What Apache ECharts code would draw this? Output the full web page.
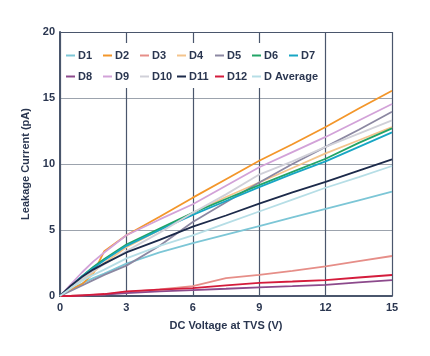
<!DOCTYPE html>
<html><head><meta charset="utf-8">
<script src="https://cdn.jsdelivr.net/npm/echarts@6/dist/echarts.min.js"></script>
<style>html,body{margin:0;padding:0;background:#fff}#c{width:430px;height:356px}</style>
</head><body><div id="c"></div>
<script>
const voltages = [0, 0.5, 1, 1.5, 2, 3, 4.5, 6, 7.5, 9, 10.5, 12, 13.5, 15];
const seriesNames = ['D1','D2','D3','D4','D5','D6','D7','D8','D9','D10','D11','D12','D Average'];
const D1  = [0, 0.5, 0.95, 1.35, 1.7, 2.45, 3.3, 4.0, 4.65, 5.3, 5.95, 6.6, 7.25, 7.9];
const D2  = [0, 0.5, 0.9, 1.7, 3.4, 4.6, 6.0, 7.45, 8.85, 10.25, 11.5, 12.8, 14.2, 15.55];
const D3  = [0, 0.02, 0.05, 0.08, 0.12, 0.3, 0.5, 0.75, 1.35, 1.6, 1.9, 2.25, 2.65, 3.03];
const D4  = [0, 0.6, 1.2, 1.8, 2.5, 3.7, 5.0, 6.3, 7.5, 8.6, 9.7, 10.8, 11.8, 12.8];
const D5  = [0, 0.4, 0.8, 1.2, 1.6, 2.3, 3.8, 5.6, 7.1, 8.6, 10.0, 11.3, 12.6, 13.96];
const D6  = [0, 0.8, 1.5, 2.2, 2.8, 3.9, 5.1, 6.3, 7.35, 8.4, 9.4, 10.4, 11.6, 12.7];
const D7  = [0, 0.8, 1.5, 2.1, 2.7, 3.8, 5.0, 6.15, 7.2, 8.25, 9.25, 10.2, 11.3, 12.4];
const D8  = [0, 0, 0.03, 0.06, 0.1, 0.22, 0.35, 0.45, 0.55, 0.66, 0.75, 0.85, 1.03, 1.21];
const D9  = [0, 0.9, 1.8, 2.6, 3.3, 4.6, 5.8, 6.95, 8.35, 9.75, 10.9, 12.05, 13.3, 14.55];
const D10 = [0, 0.7, 1.3, 1.9, 2.4, 3.4, 4.8, 6.3, 7.7, 9.2, 10.2, 11.3, 12.3, 13.3];
const D11 = [0, 0.8, 1.45, 2.0, 2.45, 3.3, 4.25, 5.25, 6.1, 7.0, 7.85, 8.65, 9.5, 10.35];
const D12 = [0, 0, 0.05, 0.1, 0.15, 0.35, 0.48, 0.6, 0.8, 1.0, 1.1, 1.21, 1.4, 1.59];
const DAvg = [0, 0.6, 1.15, 1.6, 2.0, 2.85, 3.8, 4.6, 5.5, 6.4, 7.3, 8.2, 9.0, 9.85];
const xTicks = [0, 3, 6, 9, 12, 15];
const yTicks = [0, 5, 10, 15, 20];

const values = [D1, D2, D3, D4, D5, D6, D7, D8, D9, D10, D11, D12, DAvg];
const colors = ['#7cc6d6','#f3962a','#e68e88','#f4c48c','#8c88a2','#22a466','#17a6c4',
                '#8c4a8c','#d2a2d8','#d0d0d8','#1c2a4a','#d41c3c','#b6dee6'];
const dark = '#4a566c';
const txt = '#2a3650';
const font = 'Liberation Sans, Arial';

const series = seriesNames.map((n, i) => ({
  name: n, type: 'line', showSymbol: false, symbol: 'none',
  data: voltages.map((v, k) => [v, values[i][k]]),
  lineStyle: { width: 1.8, color: colors[i] }, itemStyle: { color: colors[i] },
  z: 3
}));

const legendCols = [66, 103, 140, 177, 215, 252, 289];
const legendRows = [50, 71];
const legends = seriesNames.map((n, i) => ({
  left: legendCols[i % 7], top: legendRows[Math.floor(i / 7)],
  data: [n], padding: 0, itemWidth: 9, itemHeight: 2, icon: 'rect',
  textStyle: { fontFamily: font, fontWeight: 'bold', fontSize: 11, color: txt, padding: [0, 0, 0, -2] },
  selectedMode: false, z: 5
}));

const chart = echarts.init(document.getElementById('c'), null, { renderer: 'canvas' });
chart.setOption({
  backgroundColor: '#fff',
  animation: false,
  grid: { left: 60, right: 38, top: 32, bottom: 60, show: false },
  graphic: [{ type: 'rect', shape: { x: 62, y: 43, width: 258, height: 45 }, style: { fill: '#fff' }, z: 2 }],
  legend: legends,
  xAxis: {
    type: 'value', min: xTicks[0], max: xTicks[xTicks.length - 1], interval: 3,
    name: 'DC Voltage at TVS (V)', nameLocation: 'middle', nameGap: 24,
    nameTextStyle: { fontFamily: font, fontWeight: 'bold', fontSize: 11, color: txt },
    axisLine: { show: true, lineStyle: { color: dark, width: 2 } },
    axisTick: { show: false },
    axisLabel: { fontFamily: font, fontWeight: 'bold', fontSize: 11, color: txt, margin: 6 },
    splitLine: { show: true, lineStyle: { color: dark, width: 1.2 } }
  },
  yAxis: {
    type: 'value', min: yTicks[0], max: yTicks[yTicks.length - 1], interval: 5,
    name: 'Leakage Current (pA)', nameLocation: 'middle', nameGap: 25, nameRotate: 90,
    nameTextStyle: { fontFamily: font, fontWeight: 'bold', fontSize: 11, color: txt },
    axisLine: { show: true, lineStyle: { color: dark, width: 2 } },
    axisTick: { show: false },
    axisLabel: { fontFamily: font, fontWeight: 'bold', fontSize: 11, color: txt, margin: 5 },
    splitLine: { show: true, lineStyle: { color: ['#9ca3ad', '#9ca3ad', '#9ca3ad', '#9ca3ad', dark], width: 1.2 } }
  },
  series: series
});
</script></body></html>
